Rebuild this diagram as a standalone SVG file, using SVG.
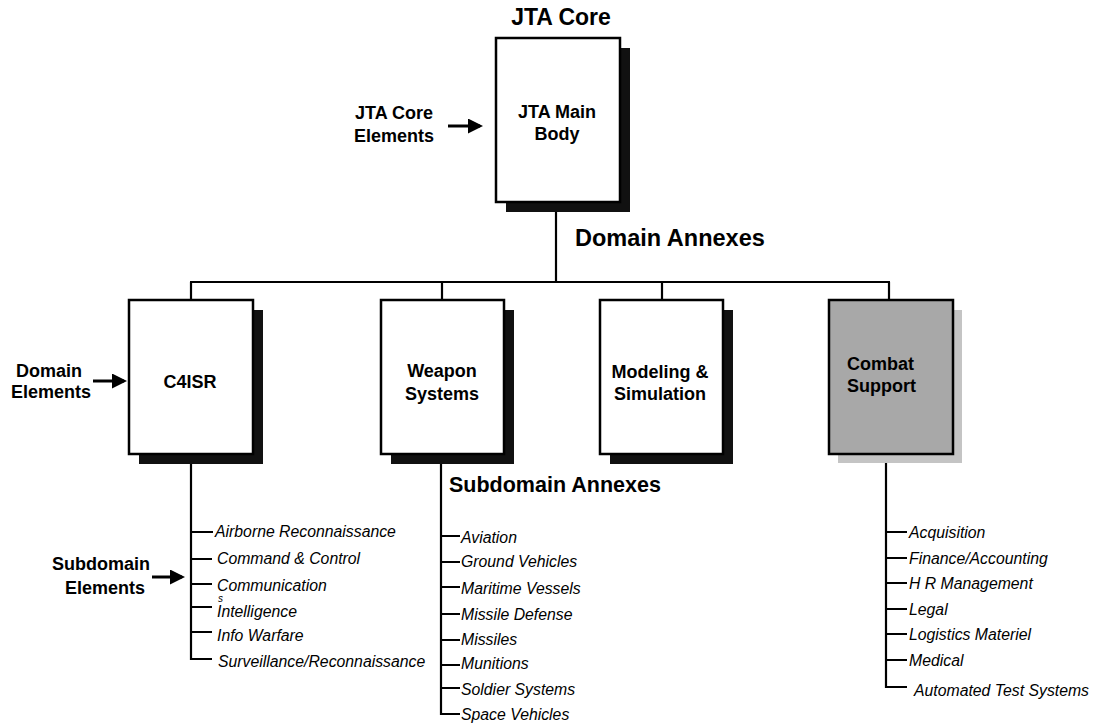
<svg xmlns="http://www.w3.org/2000/svg" width="1094" height="725" viewBox="0 0 1094 725">
<style>
.bold{font-family:"Liberation Sans",Arial,sans-serif;font-weight:bold;fill:#000}
.lbl{font-size:18px}
.ttl{font-size:23px}
.item{font-family:"Liberation Sans",Arial,sans-serif;font-style:italic;font-size:15.8px;fill:#000}
.box{fill:#fff;stroke:#000;stroke-width:2.5}
.shadow{fill:#111}
.gbox{fill:#a8a8a8;stroke:#000;stroke-width:2.5}
.gshadow{fill:#c4c4c4}
.ln{stroke:#000;stroke-width:2.2;fill:none}
.arr{stroke:#000;stroke-width:3;fill:none}
</style>
<defs>
<marker id="ah" markerWidth="5" markerHeight="5" refX="4" refY="2.5" orient="auto" markerUnits="strokeWidth">
<path d="M0,0 L5,2.5 L0,5 z" fill="#000"/>
</marker>
</defs>
<rect width="1094" height="725" fill="#fff"/>

<g id="connectors">
<line class="ln" x1="556" y1="202" x2="556" y2="282"/>
<line class="ln" x1="190" y1="282" x2="890" y2="282"/>
<line class="ln" x1="191" y1="282" x2="191" y2="300"/>
<line class="ln" x1="442" y1="282" x2="442" y2="300"/>
<line class="ln" x1="662" y1="282" x2="662" y2="300"/>
<line class="ln" x1="889" y1="282" x2="889" y2="300"/>
<path class="ln" d="M191,454 V659 H212"/>
<path class="ln" d="M191,532 H213 M191,559 H212 M191,584 H212 M191,607 H212 M191,632 H212"/>
<path class="ln" d="M441,454 V714 H460"/>
<path class="ln" d="M441,536 H460 M441,562 H460 M441,587 H460 M441,614 H460 M441,640 H460 M441,665 H460 M441,688 H460"/>
<path class="ln" d="M886,454 V687 H907"/>
<path class="ln" d="M886,532 H907 M886,558 H907 M886,583 H907 M886,609 H907 M886,634 H907 M886,660 H907"/>
<line class="arr" x1="448" y1="126" x2="480" y2="126" marker-end="url(#ah)"/>
<line class="arr" x1="93" y1="381" x2="124" y2="381" marker-end="url(#ah)"/>
<line class="arr" x1="152" y1="577" x2="182" y2="577" marker-end="url(#ah)"/>
</g>

<g id="jta-core-title">
<text class="bold ttl" x="561" y="25" text-anchor="middle">JTA Core</text>
</g>

<g id="jta-main-body">
<rect class="shadow" x="506" y="48" width="124" height="164"/>
<rect class="box" x="496" y="38" width="124" height="164"/>
<text class="bold lbl" x="557" y="118" text-anchor="middle">JTA Main</text>
<text class="bold lbl" x="557" y="140" text-anchor="middle">Body</text>
</g>

<g id="jta-core-elements">
<text class="bold lbl" x="394" y="119" text-anchor="middle">JTA Core</text>
<text class="bold lbl" x="394" y="142" text-anchor="middle">Elements</text>
</g>

<g id="domain-annexes-label">
<text class="bold" font-size="23.5" x="575" y="246">Domain Annexes</text>
</g>

<g id="domain-elements">
<text class="bold lbl" x="49" y="377" text-anchor="middle">Domain</text>
<text class="bold lbl" x="51" y="398" text-anchor="middle">Elements</text>
</g>

<g id="c4isr">
<rect class="shadow" x="139" y="310" width="124" height="154"/>
<rect class="box" x="129" y="300" width="124" height="154"/>
<text class="bold lbl" x="190" y="388" text-anchor="middle">C4ISR</text>
</g>

<g id="weapon-systems">
<rect class="shadow" x="391" y="310" width="123" height="154"/>
<rect class="box" x="381" y="300" width="123" height="154"/>
<text class="bold lbl" x="442" y="377" text-anchor="middle">Weapon</text>
<text class="bold lbl" x="442" y="400" text-anchor="middle">Systems</text>
</g>

<g id="modeling-simulation">
<rect class="shadow" x="610" y="310" width="123" height="154"/>
<rect class="box" x="600" y="300" width="123" height="154"/>
<text class="bold lbl" x="660" y="378" text-anchor="middle">Modeling &amp;</text>
<text class="bold lbl" x="660" y="400" text-anchor="middle">Simulation</text>
</g>

<g id="combat-support">
<rect class="gshadow" x="838" y="310" width="124" height="153"/>
<rect class="gbox" x="829" y="300" width="124" height="154"/>
<text class="bold lbl" x="847" y="370">Combat</text>
<text class="bold lbl" x="847" y="392">Support</text>
</g>

<g id="subdomain-annexes-label">
<text class="bold" font-size="21.5" x="449" y="492">Subdomain Annexes</text>
</g>

<g id="subdomain-elements">
<text class="bold lbl" x="101" y="570" text-anchor="middle">Subdomain</text>
<text class="bold lbl" x="105" y="594" text-anchor="middle">Elements</text>
</g>

<g id="c4isr-subdomains">
<text class="item" x="215" y="537">Airborne Reconnaissance</text>
<text class="item" x="217" y="564">Command &amp; Control</text>
<text class="item" x="217" y="591">Communication<tspan x="218" y="602" font-size="10">s</tspan></text>
<text class="item" x="217" y="617">Intelligence</text>
<text class="item" x="217" y="641">Info Warfare</text>
<text class="item" x="218" y="667">Surveillance/Reconnaissance</text>
</g>

<g id="weapon-subdomains">
<text class="item" x="461" y="543">Aviation</text>
<text class="item" x="461" y="567">Ground Vehicles</text>
<text class="item" x="461" y="594">Maritime Vessels</text>
<text class="item" x="461" y="620">Missile Defense</text>
<text class="item" x="461" y="645">Missiles</text>
<text class="item" x="461" y="669">Munitions</text>
<text class="item" x="461" y="695">Soldier Systems</text>
<text class="item" x="461" y="720">Space Vehicles</text>
</g>

<g id="combat-subdomains">
<text class="item" x="909" y="538">Acquisition</text>
<text class="item" x="909" y="564">Finance/Accounting</text>
<text class="item" x="909" y="589">H R Management</text>
<text class="item" x="909" y="615">Legal</text>
<text class="item" x="909" y="640">Logistics Materiel</text>
<text class="item" x="909" y="666">Medical</text>
<text class="item" x="914" y="696">Automated Test Systems</text>
</g>
</svg>
